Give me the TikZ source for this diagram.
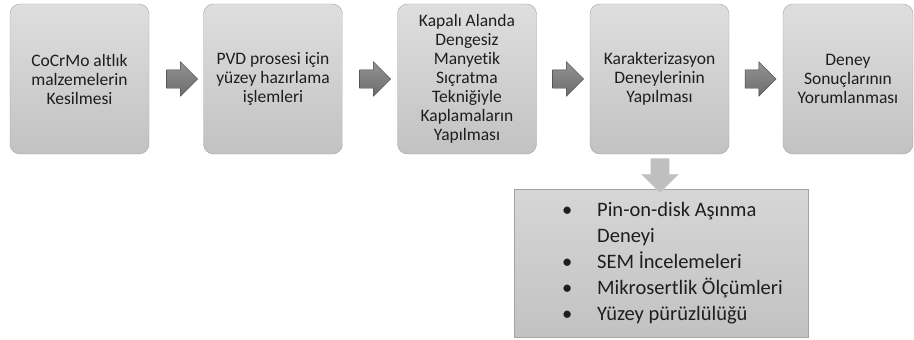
\documentclass[tikz,border=0pt]{standalone}
\usepackage{fontspec}
\setmainfont{Carlito}[Ligatures=NoCommon]
\usetikzlibrary{shapes.arrows}
\definecolor{kutuust}{HTML}{DEDEDE}
\definecolor{kutualt}{HTML}{C2C2C2}
\definecolor{kenar}{HTML}{A3A3A3}
\definecolor{okust}{HTML}{939393}
\definecolor{okalt}{HTML}{6C6C6C}
\definecolor{yazi}{HTML}{1E1E1E}

\begin{document}
\begin{tikzpicture}[x=1pt, y=-1pt,
		kutu/.style={draw=kenar, top color=kutuust, bottom color=kutualt, rounded corners=10pt,
			minimum width=139pt, minimum height=150pt, align=center, text=yazi,
			font=\fontsize{17.5}{19}\selectfont, inner sep=2pt},
		sagok/.style={single arrow, draw=black!75, top color=okust, bottom color=okalt,
			minimum width=34pt, minimum height=31pt, inner sep=9pt, single arrow head extend=8pt},
		asagiok/.style={single arrow, shape border rotate=270, draw=black!20, fill=black!25,
			minimum width=36pt, minimum height=34pt, inner sep=9pt, single arrow head extend=9pt},
		listekutu/.style={draw=kenar, top color=black!16, bottom color=black!24,
			minimum width=294pt, minimum height=148pt}]
		\useasboundingbox (0,0) rectangle (914,340);
		\node[kutu](k1)at(79.5,79){CoCrMo altlık\\malzemelerin\\Kesilmesi};
		\node[kutu](k2)at(273,79){PVD prosesi için\\yüzey hazırlama\\işlemleri};
		\node[kutu](k3)at(467,79){Kapalı Alanda\\Dengesiz\\Manyetik\\Sıçratma\\Tekniğiyle\\Kaplamaların\\Yapılması};
		\node[kutu](k4)at(659.5,79){Karakterizasyon\\Deneylerinin\\Yapılması};
		\node[kutu, minimum width=130pt](k5)at(848,79){Deney\\Sonuçlarının\\Yorumlanması};
		\node[sagok](o1)at(177.5,79){};
		\node[sagok](o2)at(370.5,79){};
		\node[sagok](o3)at(563.5,79){};
		\node[sagok](o4)at(756,79){};
		\node[listekutu](liste)at(661,263){};
		\node[asagiok](od)at(660,171){};
		\node[anchor=west, text=yazi, inner sep=0pt, font=\fontsize{20.5}{26}\selectfont](maddeler)at(562,263){%
			\begin{tabular}{@{}p{35pt}@{}l@{}}
				• & Pin-on-disk Aşınma\\
				  & Deneyi\\
				• & SEM İncelemeleri\\
				• & Mikrosertlik Ölçümleri\\
				• & Yüzey pürüzlülüğü
			\end{tabular}};
	\end{tikzpicture}
\end{document}
